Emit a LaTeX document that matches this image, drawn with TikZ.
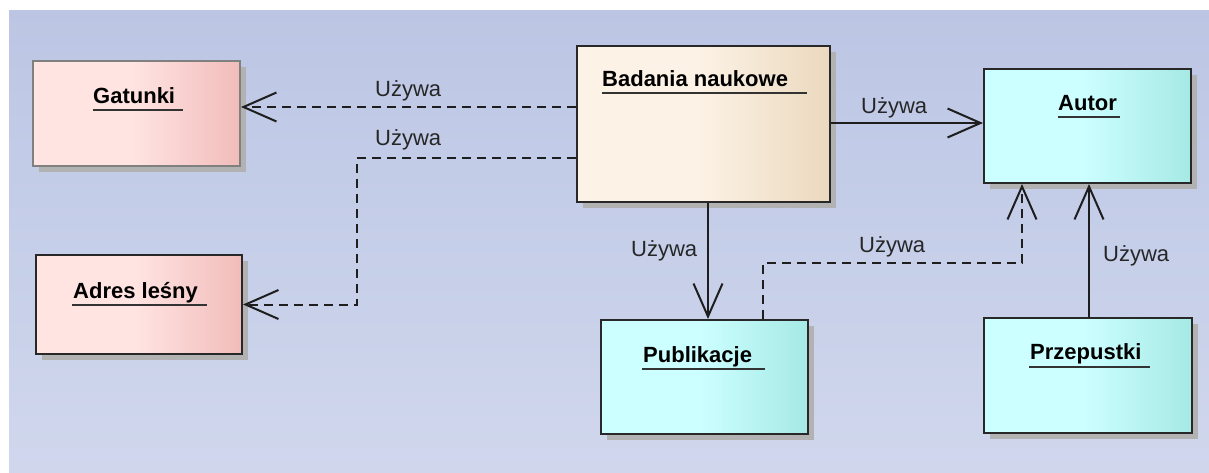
\documentclass[tikz,border=0pt]{standalone}
\usepackage{fontspec}
\setmainfont{Liberation Sans}
\usetikzlibrary{arrows.meta,shadows}

\definecolor{bgtop}{RGB}{188,198,228}
\definecolor{bgbot}{RGB}{208,215,237}
\definecolor{pinkL}{RGB}{255,228,226}
\definecolor{pinkR}{RGB}{241,188,186}
\definecolor{beigeL}{RGB}{252,242,229}
\definecolor{beigeR}{RGB}{235,217,191}
\definecolor{cyanL}{RGB}{204,255,255}
\definecolor{cyanR}{RGB}{165,233,229}
\definecolor{edgeclr}{RGB}{30,30,30}
\definecolor{frameclr}{RGB}{40,40,40}
\definecolor{paleframe}{RGB}{128,128,128}

% horizontal fills: flat on the left half, darkening towards the right edge
\pgfdeclarehorizontalshading{pinkfill}{100bp}{color(0bp)=(pinkL); color(25bp)=(pinkL); color(49bp)=(pinkL); color(75bp)=(pinkR); color(100bp)=(pinkR)}
\pgfdeclarehorizontalshading{beigefill}{100bp}{color(0bp)=(beigeL); color(25bp)=(beigeL); color(49bp)=(beigeL); color(75bp)=(beigeR); color(100bp)=(beigeR)}
\pgfdeclarehorizontalshading{cyanfill}{100bp}{color(0bp)=(cyanL); color(25bp)=(cyanL); color(49bp)=(cyanL); color(75bp)=(cyanR); color(100bp)=(cyanR)}

\tikzset{
  classbox/.style={rectangle, draw=frameclr, line width=2pt, inner sep=0pt,
    drop shadow={shadow xshift=6pt, shadow yshift=-6pt, fill=black!30, opacity=1}},
  title/.style={font=\fontsize{22}{26}\selectfont\bfseries, text=black, inner sep=0pt, anchor=base west},
  uline/.style={line width=2pt, draw=black!80},
  lbl/.style={font=\fontsize{22}{26}\selectfont, text=black!85, inner sep=0pt, anchor=base west},
  tipv/.style={-{Straight Barb[length=33pt, width=29pt, line width=2pt]}},
  uses/.style={draw=edgeclr, line width=2pt, tipv},
  usesdash/.style={uses, dash pattern=on 9pt off 6pt},
}

\begin{document}
\begin{tikzpicture}[x=1pt, y=-1pt]
  \useasboundingbox (0,0) rectangle (1209,472);
  \fill[top color=bgtop, bottom color=bgbot] (9,10) rectangle (1209,472);

  % class boxes
  \node[classbox, draw=paleframe, shading=pinkfill, minimum width=207pt, minimum height=105pt] (gat) at (136.5,113.5) {};
  \node[classbox, shading=pinkfill, minimum width=206pt, minimum height=99pt] (adr) at (139,304.5) {};
  \node[classbox, shading=beigefill, minimum width=253pt, minimum height=156pt] (bad) at (703.5,124) {};
  \node[classbox, shading=cyanfill, minimum width=207pt, minimum height=114pt] (aut) at (1087.5,126) {};
  \node[classbox, shading=cyanfill, minimum width=207pt, minimum height=114pt] (pub) at (704.5,377) {};
  \node[classbox, shading=cyanfill, minimum width=208pt, minimum height=115pt] (prz) at (1088,375.5) {};

  % underlined titles
  \node[title] (gatT) at (93,103) {Gatunki};
  \draw[uline] ([yshift=-7pt]gatT.base west) -- ++(90,0);
  \node[title] (adrT) at (73,298) {Adres leśny};
  \draw[uline] ([yshift=-7pt,xshift=-1pt]adrT.base west) -- ++(135,0);
  \node[title] (badT) at (602,86) {Badania naukowe};
  \draw[uline] ([yshift=-7pt]badT.base west) -- ++(205,0);
  \node[title] (autT) at (1058,110) {Autor};
  \draw[uline] ([yshift=-7pt]autT.base west) -- ++(62,0);
  \node[title] (pubT) at (643,362) {Publikacje};
  \draw[uline] ([yshift=-7pt,xshift=-1pt]pubT.base west) -- ++(123,0);
  \node[title] (przT) at (1030,359) {Przepustki};
  \draw[uline] ([yshift=-8pt,xshift=-1pt]przT.base west) -- ++(121,0);

  % bend points of the connectors
  \coordinate (gatY) at (0,107);
  \coordinate (adrK) at (357,158);
  \coordinate (autY) at (0,123);
  \coordinate (pubX) at (708,0);
  \coordinate (pubK1) at (763,263);
  \coordinate (pubK2) at (1022,263);
  \coordinate (przX) at (1089,0);

  % connectors
  \draw[usesdash] (bad.west |- gatY) -- (gat.east |- gatY);
  \draw[usesdash] (bad.west |- adrK) -- (adrK) |- (adr.east);
  \draw[uses] (bad.east |- autY) -- (aut.west |- autY);
  \draw[uses] (bad.south -| pubX) -- (pub.north -| pubX);
  \draw[usesdash] (pub.north -| pubK1) -- (pubK1) -- (pubK2) -- (aut.south -| pubK2);
  \draw[uses] (prz.north -| przX) -- (aut.south -| przX);

  % connector labels
  \node[lbl] (l1) at (375,96) {Używa};
  \node[lbl] (l2) at (375,145) {Używa};
  \node[lbl] (l3) at (861,113) {Używa};
  \node[lbl] (l4) at (631,256) {Używa};
  \node[lbl] (l5) at (859,252) {Używa};
  \node[lbl] (l6) at (1103,261) {Używa};
\end{tikzpicture}
\end{document}
